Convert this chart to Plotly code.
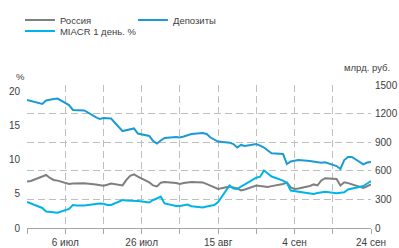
import plotly.graph_objects as go
import pandas as pd

dates = pd.bdate_range("2014-06-26", "2014-09-24")

russia = [6.84, 6.91, 7.57, 7.79, 7.35, 7.06, 6.96,
          6.47, 6.54, 6.57, 6.57, 6.57,
          6.40, 6.25, 6.21, 6.35, 6.54,
          6.25, 7.06, 7.65, 7.87, 7.54,
          6.69, 6.25, 6.10, 6.66, 6.76,
          6.62, 6.47, 6.62, 6.72, 6.76,
          6.69, 6.47, 6.18, 5.96, 5.74,
          6.10, 5.99, 5.81, 5.51, 5.66,
          6.25, 6.18, 6.03, 6.03, 6.15,
          6.47, 6.69, 5.96, 5.74, 5.81,
          6.18, 6.40, 6.25, 6.99, 7.31,
          7.21, 6.25, 6.72, 6.59, 6.43,
          5.88, 6.13, 6.40]

deposits = [1343, 1332, 1301, 1337, 1348, 1353, 1358,
            1290, 1238, 1238, 1238, 1233,
            1164, 1143, 1154, 1154, 1149,
            1017, 1028, 1038, 1044, 991,
            965, 913, 886, 918, 944,
            955, 949, 960, 976, 986,
            997, 986, 949, 928, 907,
            895, 881, 844, 871, 860,
            881, 865, 844, 813, 784,
            776, 671, 698, 708, 713,
            703, 698, 692, 685, 689,
            650, 619, 713, 745, 745,
            668, 687, 692]

miacr = [3.82, 3.60, 2.94, 2.42, 2.35, 2.31, 2.25,
         2.79, 3.38, 3.30, 3.27, 3.30,
         3.52, 3.60, 3.55, 3.38, 3.38,
         4.11, 4.04, 4.01, 4.08, 3.96,
         3.74, 4.11, 4.33, 4.60, 3.60,
         3.23, 3.23, 3.30, 3.45, 3.20,
         3.01, 3.16, 3.23, 3.38, 3.82,
         6.24, 5.80, 5.73, 6.09, 6.42,
         7.39, 7.53, 8.44, 8.00, 7.56,
         6.97, 6.61, 5.51, 5.43, 5.36,
         5.07, 4.99, 5.14, 5.29, 5.33,
         5.10, 5.14, 5.24, 5.65, 5.80,
         6.17, 6.53, 6.90]

x_tickvals = ["2014-06-26", "2014-07-06", "2014-07-16", "2014-07-26", "2014-08-05",
              "2014-08-15", "2014-08-25", "2014-09-04", "2014-09-14", "2014-09-24"]
x_ticktext = ["", "6 июл", "", "26 июл", "", "15 авг", "", "4 сен", "", "24 сен"]
left_ticks = [0, 5, 10, 15, 20]
right_ticks = [0, 300, 600, 900, 1200, 1500]

FONT = "Liberation Sans"
TXT = "#404040"
GRID = "#bfbfbf"

fig = go.Figure()
fig.add_trace(go.Scatter(x=dates, y=russia, name="Россия", mode="lines",
                         line=dict(color="#7f7f7f", width=2), legend="legend"))
fig.add_trace(go.Scatter(x=dates, y=miacr, name="MIACR 1 день. %", mode="lines",
                         line=dict(color="#00b4ea", width=2), legend="legend2"))
fig.add_trace(go.Scatter(x=dates, y=deposits, name="Депозиты", mode="lines", yaxis="y2",
                         line=dict(color="#1b9ad6", width=2), legend="legend"))

fig.update_layout(
    width=399, height=248,
    margin=dict(l=27, r=28, t=85, b=20, autoexpand=False),
    paper_bgcolor="white", plot_bgcolor="white",
    font=dict(family=FONT, size=10, color=TXT),
    showlegend=True,
    legend=dict(orientation="h", xref="container", yref="container",
                x=0.05, xanchor="left", y=1 - 20 / 248, yanchor="middle",
                font=dict(size=9.5, color=TXT), entrywidth=68, tracegroupgap=0,
                bgcolor="rgba(0,0,0,0)", itemwidth=30),
    legend2=dict(orientation="h", xref="container", yref="container",
                 x=0.05, xanchor="left", y=1 - 31 / 248, yanchor="middle",
                 font=dict(size=9.5, color=TXT), bgcolor="rgba(0,0,0,0)", itemwidth=30),
    xaxis=dict(type="date", range=["2014-06-26", "2014-09-24"],
               tickvals=x_tickvals, ticktext=x_ticktext,
               showgrid=True, gridcolor=GRID, griddash="7px,4px", gridwidth=1,
               ticks="outside", ticklen=5, tickcolor="#a6a6a6",
               showline=True, linecolor="#a6a6a6", linewidth=1,
               tickfont=dict(size=10, color=TXT), zeroline=False),
    yaxis=dict(range=[0, 21], tickvals=left_ticks, showgrid=False, zeroline=False,
               tickfont=dict(size=10, color=TXT), showline=False, ticklabelstandoff=6),
    yaxis2=dict(range=[0, 1500], tickvals=right_ticks, overlaying="y", side="right",
                showgrid=True, gridcolor=GRID, griddash="7px,4px", gridwidth=1,
                zeroline=False, tickfont=dict(size=10, color=TXT), showline=False,
                ticklabelstandoff=3),
    annotations=[
        dict(text="%", xref="paper", yref="paper", x=-0.0175, y=1.056,
             xanchor="center", yanchor="middle",
             showarrow=False, font=dict(size=9.5, color=TXT)),
        dict(text="млрд. руб.", xref="paper", yref="paper", x=0.987, y=1.119,
             xanchor="center", yanchor="middle",
             showarrow=False, font=dict(size=9.5, color=TXT)),
    ],
)

fig.write_html("out.html", config={"displayModeBar": False},
               post_script="document.body.style.margin='0';")
